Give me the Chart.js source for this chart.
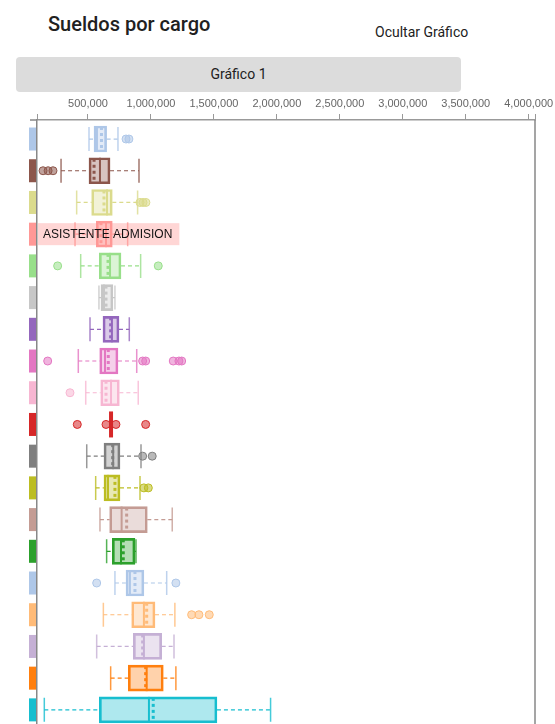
<!DOCTYPE html>
<html>
<head>
<meta charset="utf-8">
<script src="https://cdn.jsdelivr.net/npm/chart.js@4/dist/chart.umd.min.js"></script>
<style>
html,body{margin:0;padding:0;width:555px;height:724px;overflow:hidden;background:#fff;font-family:Roboto,"Noto Sans",sans-serif;}
#title{position:absolute;left:48px;top:10px;font-size:20px;font-weight:500;color:#212121;line-height:28px;white-space:nowrap;}
#hide{position:absolute;left:375px;top:22px;font-size:14px;color:#212121;line-height:20px;white-space:nowrap;}
#tab{position:absolute;left:16px;top:57px;width:445px;height:35px;background:#dcdcdc;border-radius:4px;text-align:center;line-height:35px;font-size:14px;color:#212121;}
#chart{position:absolute;left:0;top:90px;}
</style>
</head>
<body>
<canvas id="chart" width="555" height="650"></canvas>
<div id="title">Sueldos por cargo</div>
<div id="hide">Ocultar Gráfico</div>
<div id="tab">Gráfico 1</div>
<script>
// ---- data ----
const categories = ['Cargo 1','Cargo 2','Cargo 3','ASISTENTE ADMISION','Cargo 5','Cargo 6','Cargo 7','Cargo 8','Cargo 9','Cargo 10','Cargo 11','Cargo 12','Cargo 13','Cargo 14','Cargo 15','Cargo 16','Cargo 17','Cargo 18','Cargo 19'];
const whiskerLow  = [508000,286000,410000,397000,442000,587000,516000,423000,482000,683000,490000,561000,595000,648000,714000,622000,569000,680000,153000];
const q1          = [548000,508000,529000,566000,590000,603000,619000,593000,601000,683000,627000,627000,672000,693000,802000,847000,860000,820000,590000];
const median      = [571000,595000,651000,643000,675000,627000,690000,635000,683000,683000,700000,659000,767000,762000,833000,944000,944000,966000,984000];
const mean        = [607000,548000,627000,603000,659000,643000,680000,661000,643000,683000,696000,714000,807000,780000,873000,966000,934000,958000,1018000];
const q3          = [648000,675000,693000,693000,762000,698000,746000,738000,749000,683000,754000,754000,971000,873000,944000,1032000,1085000,1098000,1524000];
const whiskerHigh = [738000,905000,894000,815000,918000,714000,828000,887000,899000,683000,921000,913000,1169000,881000,1125000,1190000,1183000,1198000,1950000];
const outliers = [
  [802000,825000],
  [143000,183000,222000],
  [913000,937000,960000],
  [],
  [259000,1058000],
  [],
  [],
  [180000,934000,958000,1177000,1222000,1244000],
  [357000],
  [415000,643000,722000,958000],
  [934000,1010000],
  [944000,979000],
  [],
  [],
  [569000,1198000],
  [1323000,1381000,1463000],
  [],
  [],
  []
];
const tickValues = [500000,1000000,1500000,2000000,2500000,3000000,3500000,4000000];
const axisMin = 95000, axisMax = 4050000;
const hoverIndex = 3;

const colors = ['#aec7e8','#8c564b','#dbdb8d','#ff9896','#98df8a','#c7c7c7','#9467bd','#e377c2','#f7b6d2','#d62728','#7f7f7f','#bcbd22','#c49c94','#2ca02c','#aec7e8','#ffbb78','#c5b0d5','#ff7f0e','#17becf'];

function rgba(hex,a){
  const n=parseInt(hex.slice(1),16);
  return 'rgba('+((n>>16)&255)+','+((n>>8)&255)+','+(n&255)+','+a+')';
}

const BOX_H = 26;

const boxPlugin = {
  id:'boxExtras',
  beforeDatasetsDraw(chart){
    const ctx=chart.ctx, xs=chart.scales.x, ys=chart.scales.y;
    ctx.save();
    categories.forEach((c,i)=>{
      const y=ys.getPixelForValue(i);
      const xl=xs.getPixelForValue(whiskerLow[i]), x1=xs.getPixelForValue(q1[i]);
      const x3=xs.getPixelForValue(q3[i]), xh=xs.getPixelForValue(whiskerHigh[i]);
      ctx.strokeStyle=colors[i];
      ctx.lineWidth=1.2;
      ctx.setLineDash([4,3]);
      ctx.beginPath();
      if(x1>xl){ctx.moveTo(xl,y);ctx.lineTo(x1,y);}
      if(xh>x3){ctx.moveTo(x3,y);ctx.lineTo(xh,y);}
      ctx.stroke();
      ctx.setLineDash([]);
      ctx.lineWidth=1.5;
      ctx.strokeStyle=rgba(colors[i],0.8);
      ctx.beginPath();
      if(whiskerHigh[i]>whiskerLow[i]){
        ctx.moveTo(xl,y-BOX_H/2+1);ctx.lineTo(xl,y+BOX_H/2-1);
        ctx.moveTo(xh,y-BOX_H/2+1);ctx.lineTo(xh,y+BOX_H/2-1);
      }
      ctx.stroke();
    });
    ctx.restore();
  },
  afterDatasetsDraw(chart){
    const ctx=chart.ctx, xs=chart.scales.x, ys=chart.scales.y, ca=chart.chartArea;
    ctx.save();
    categories.forEach((c,i)=>{
      const y=ys.getPixelForValue(i);
      const xm=xs.getPixelForValue(median[i]);
      ctx.strokeStyle=colors[i];
      ctx.lineWidth = (q3[i]===q1[i]) ? 4 : 2;
      ctx.beginPath();
      ctx.moveTo(xm,y-BOX_H/2);ctx.lineTo(xm,y+BOX_H/2);
      ctx.stroke();
      if(q3[i]!==q1[i]){
        const xa=xs.getPixelForValue(mean[i]);
        ctx.lineWidth=3;
        ctx.setLineDash([3,3]);
        ctx.beginPath();
        ctx.moveTo(xa,y-BOX_H/2+1);ctx.lineTo(xa,y+BOX_H/2-1);
        ctx.stroke();
        ctx.setLineDash([]);
      }
      outliers[i].forEach(v=>{
        const xo=xs.getPixelForValue(v);
        ctx.beginPath();
        ctx.arc(xo,y,4,0,Math.PI*2);
        ctx.fillStyle=rgba(colors[i],0.55);
        ctx.fill();
        ctx.lineWidth=1;
        ctx.strokeStyle=colors[i];
        ctx.stroke();
      });
      ctx.fillStyle=colors[i];
      ctx.fillRect(ca.left-8,y-11.5,7,23);
    });
    ctx.strokeStyle='#888';
    ctx.lineWidth=1.5;
    ctx.beginPath();
    ctx.moveTo(ca.right,ca.top);ctx.lineTo(ca.right,ca.bottom);
    ctx.moveTo(ca.left-7,ca.top);ctx.lineTo(ca.left,ca.top);
    ctx.stroke();
    const yh=ys.getPixelForValue(hoverIndex);
    ctx.font='12px "Liberation Sans", Arial, sans-serif';
    const tw=ctx.measureText(categories[hoverIndex]).width;
    ctx.fillStyle=rgba(colors[hoverIndex],0.4);
    ctx.fillRect(ca.left+1,yh-11,tw+12,22);
    ctx.fillStyle='#111';
    ctx.textBaseline='middle';
    ctx.textAlign='left';
    ctx.fillText(categories[hoverIndex],ca.left+6,yh+1);
    ctx.restore();
  }
};

new Chart(document.getElementById('chart').getContext('2d'),{
  type:'bar',
  data:{
    labels:categories,
    datasets:[{
      data:categories.map((c,i)=>({x:[q1[i],q3[i]],y:i})),
      backgroundColor:colors.map(c=>rgba(c,0.35)),
      borderColor:colors,
      borderWidth:2,
      borderSkipped:false,
      barThickness:BOX_H
    }]
  },
  options:{
    indexAxis:'y',
    responsive:false,
    animation:false,
    layout:{padding:{left:37,right:20,top:5,bottom:0}},
    plugins:{legend:{display:false},tooltip:{enabled:false}},
    scales:{
      x:{
        type:'linear',position:'top',min:axisMin,max:axisMax,
        afterBuildTicks:s=>{s.ticks=[axisMin,...tickValues,axisMax].map(v=>({value:v}));},
        afterFit:s=>{s.height=25;},
        ticks:{autoSkip:false,maxRotation:0,padding:3,color:'#666',font:{family:'"Liberation Sans", Arial, sans-serif',size:11},
          callback:v=>tickValues.includes(v)?v.toLocaleString('en-US'):''},
        grid:{drawOnChartArea:false,tickLength:6,color:'#999',lineWidth:1},
        border:{color:'#999',width:1.5}
      },
      y:{
        type:'linear',reverse:true,min:-0.6,max:18.95,offset:false,
        afterFit:s=>{s.width=0;},
        ticks:{display:false},
        grid:{display:false,offset:false},
        border:{color:'#888',width:1.5}
      }
    }
  },
  plugins:[boxPlugin]
});
</script>
</body>
</html>
